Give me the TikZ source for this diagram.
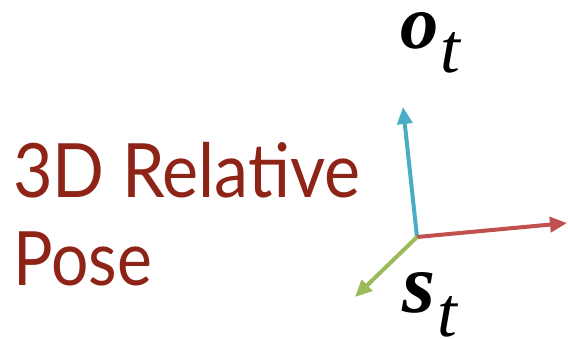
\documentclass[tikz,border=0pt]{standalone}
\usepackage{fontspec}
\setmainfont{Lato}
\newfontfamily\labelfont{Liberation Serif}
\usetikzlibrary{arrows.meta}

\definecolor{poseRed}{HTML}{8E2417}
\definecolor{axisCyan}{HTML}{4BACC6}
\definecolor{axisRed}{HTML}{C0504D}
\definecolor{axisGreen}{HTML}{9BBB59}

% bold italic letter (height #1) with a lowered t
\newcommand{\subT}[2]{\resizebox{!}{#1}{\bfseries\itshape #2}\kern2pt%
  \raisebox{-24pt}{\resizebox{!}{40pt}{\itshape t}}}

\begin{document}
\begin{tikzpicture}[x=1pt,y=-1pt,
    axis/.style={line width=4pt,-{Triangle[length=17pt,width=15pt]}},
    title/.style={anchor=base west,inner sep=0pt,text=poseRed,
                  font=\fontsize{75}{90}\selectfont},
    lbl/.style={anchor=base west,inner sep=0pt,font=\labelfont}]
        \useasboundingbox (0,0) rectangle (568,338);

        % Title text
        \node[title] (line1) at (13,197) {\scalebox{0.91}[1]{3D Relative}};
        \node[title] (line2) at (13,285) {\scalebox{0.88}[1]{Pose}};

        % Frame origin and axis ends
        \coordinate (origin) at (417,237);
        \coordinate (tipUp) at (403,107);
        \coordinate (tipRight) at (567,223);
        \coordinate (tipDown) at (355,297);

        % Axes
        \draw[axis,axisCyan] (origin) -- (tipUp);
        \draw[axis,axisRed] (origin) -- (tipRight);
        \draw[axis,axisGreen] (origin) -- (tipDown);

        % Labels
        \node[lbl] (obs) at (400,48) {\subT{36pt}{o}};
        \node[lbl] (state) at (402,312) {\subT{40pt}{s}};
    \end{tikzpicture}
\end{document}
